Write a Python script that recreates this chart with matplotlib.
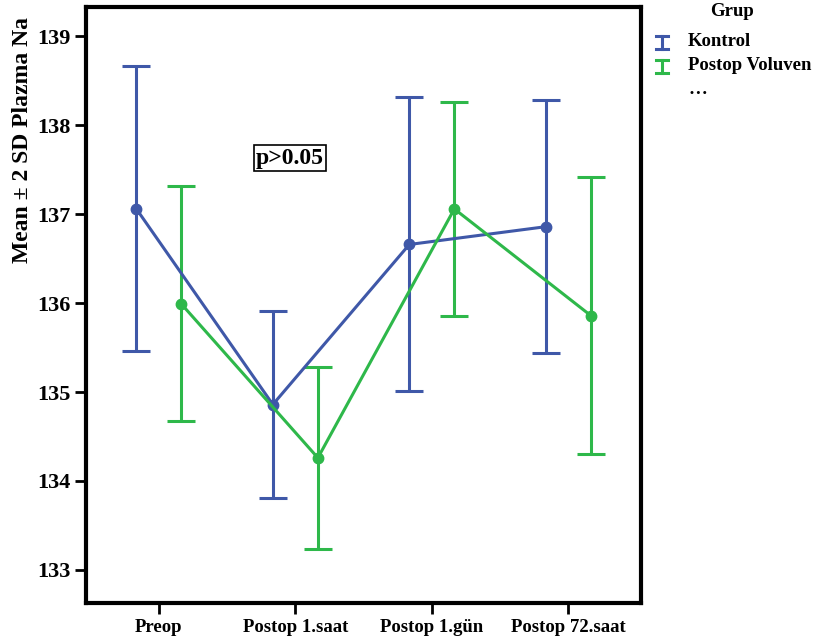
import matplotlib.pyplot as plt
from matplotlib.lines import Line2D
import numpy as np

plt.rcParams['font.family'] = ['Liberation Serif', 'DejaVu Serif']
plt.rcParams['font.weight'] = 'bold'

# Plasma Na, mean and mean +/- 2 SD per time point
categories = ['Preop', 'Postop 1.saat', 'Postop 1.gün', 'Postop 72.saat']
kontrol_mean = [137.06, 134.86, 136.66, 136.86]
kontrol_low = [135.46, 133.81, 135.01, 135.44]
kontrol_high = [138.67, 135.91, 138.32, 138.28]
voluven_mean = [135.99, 134.26, 137.06, 135.86]
voluven_low = [134.67, 133.24, 135.86, 134.30]
voluven_high = [137.32, 135.28, 138.26, 137.42]

blue = '#3f58a8'
green = '#2eb84a'

W, H = 818, 644
fig = plt.figure(figsize=(W / 100, H / 100), dpi=100)
ax = fig.add_axes([0.105, 0.064, 0.679, 0.925])

x = np.arange(len(categories))
offset = 0.165

groups = [
    ('Kontrol', kontrol_mean, kontrol_low, kontrol_high, blue, -offset),
    ('Postop Voluven', voluven_mean, voluven_low, voluven_high, green, offset),
]
for name, mean, low, high, color, dx in groups:
    mean = np.array(mean)
    yerr = [mean - np.array(low), np.array(high) - mean]
    ax.errorbar(x + dx, mean, yerr=yerr, color=color, lw=2.2, elinewidth=2.2,
                capsize=10, capthick=2.2, marker='o', ms=7.5, zorder=3)

ax.set_xlim(-0.535, 3.535)
ax.set_ylim(132.63, 139.33)
ax.set_xticks(x)
ax.set_xticklabels(categories)
ax.set_yticks(np.arange(133, 140))
ax.tick_params(axis='x', length=8, width=2, labelsize=13.5, pad=4)
ax.tick_params(axis='y', length=8, width=2, labelsize=16, pad=3)
for lab in ax.get_xticklabels() + ax.get_yticklabels():
    lab.set_fontweight('bold')
for sp in ax.spines.values():
    sp.set_linewidth(3)

fig.text(0.028, 0.782, 'Mean ± 2 SD Plazma Na', fontsize=17, fontweight='bold',
         rotation=90, ha='center', va='center')

ax.text(0.96, 137.63, 'p>0.05', fontsize=17, fontweight='bold',
        ha='center', va='center',
        bbox=dict(boxstyle='square,pad=0.1', fc='white', ec='black', lw=1.2))

# legend drawn by hand: small "I" error-bar icons next to the labels
def px(xp, yp):
    return xp / W, 1 - yp / H

fig.text(*px(732, 12), 'Grup', fontsize=13.5, fontweight='bold', ha='center', va='center')
for (name, *_rest), ypos in zip(groups, [42, 66]):
    color = _rest[3]
    xc, half, cap = 662, 6.5, 6
    for seg in [((xc, xc), (ypos - half, ypos + half)),
                ((xc - cap, xc + cap), (ypos - half, ypos - half)),
                ((xc - cap, xc + cap), (ypos + half, ypos + half))]:
        xs = [s / W for s in seg[0]]
        ys = [1 - s / H for s in seg[1]]
        fig.add_artist(Line2D(xs, ys, color=color, lw=2.2))
    fig.text(*px(688, ypos), name, fontsize=13.5, fontweight='bold', ha='left', va='center')
fig.text(*px(688, 90), '…', fontsize=13.5, fontweight='bold', ha='left', va='center')

fig.savefig('out.png', dpi=100)
